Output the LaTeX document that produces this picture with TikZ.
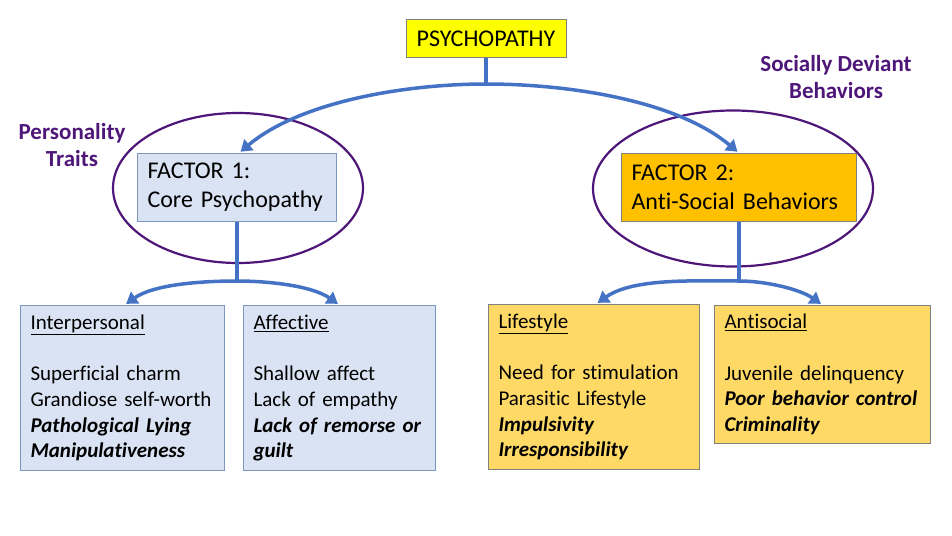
\documentclass[tikz,border=0pt]{standalone}
\usepackage{fontspec}
\setmainfont{Carlito}[Ligatures=CommonOff]
\usepackage{tikz}
\usetikzlibrary{
  arrows.meta,
  backgrounds,
  positioning
}
\definecolor{LinkBlue}{RGB}{68, 114, 196}
\definecolor{TraitPurple}{RGB}{78, 22, 120}
\definecolor{PaleBlue}{RGB}{218, 227, 243}
\definecolor{PaleBlueEdge}{RGB}{124, 150, 190}
\definecolor{TopYellow}{RGB}{255, 255, 0}
\definecolor{FactorOrange}{RGB}{255, 192, 0}
\definecolor{PaleGold}{RGB}{255, 217, 102}
\definecolor{BoxGray}{RGB}{128, 128, 128}
\tikzset{
    factorbox/.style={draw, line width=1pt, anchor=north west, inner xsep=10pt, inner ysep=0pt, align=left, font=\fontsize{24}{29}\selectfont},
    itembox/.style={draw, line width=1pt, anchor=north west, inner xsep=10pt, inner ysep=8pt, align=left, font=\fontsize{21}{25.7}\selectfont},
    stem/.style={draw=LinkBlue, line width=3.5pt},
    branch/.style={stem, -{Triangle[length=11pt,width=14pt]}, shorten >=2pt},
    ring/.style={draw=TraitPurple, line width=2.2pt},
    tag/.style={text=TraitPurple, align=center, font=\fontsize{23}{27}\selectfont\bfseries}
}

\begin{document}
\begin{tikzpicture}[x=1pt, y=-1pt]
            \useasboundingbox (0,0) rectangle (952,535);
            \node[draw=BoxGray, fill=TopYellow, line width=1pt, minimum width=160pt, minimum height=38pt, font=\fontsize{24}{28}\selectfont] (psy) at (486,39) {PSYCHOPATHY};
            \node[factorbox, fill=PaleBlue, draw=PaleBlueEdge, text width=179pt, minimum height=68pt] (f1) at (137,153) {FACTOR 1:\\Core Psychopathy};
            \node[factorbox, fill=FactorOrange, draw=BoxGray, text width=215pt, minimum height=68pt] (f2) at (621,153) {FACTOR 2:\\Anti-Social Behaviors};
            \node[tag] (traits) at (72,145) {Personality\\Traits};
            \node[tag] (deviant) at (836,77) {Socially Deviant\\Behaviors};

            \node[itembox, fill=PaleBlue, draw=PaleBlueEdge, text width=184pt, minimum height=165pt] (inter) at (20,305) {\underline{Interpersonal}\\[25.7pt]
                Superficial charm\\
                Grandiose self-worth\\
                \textbf{\textit{Pathological Lying}}\\
                \textbf{\textit{Manipulativeness}}};
            \node[itembox, fill=PaleBlue, draw=PaleBlueEdge, text width=172pt, minimum height=165pt] (affect) at (243,305) {\underline{Affective}\\[25.7pt]
                Shallow affect\\
                Lack of empathy\\
                \textbf{\textit{Lack of remorse or}}\\
                \textbf{\textit{guilt}}};
            \node[itembox, fill=PaleGold, draw=BoxGray, text width=191pt, minimum height=165pt] (life) at (488,304) {\underline{Lifestyle}\\[25.7pt]
                Need for stimulation\\
                Parasitic Lifestyle\\
                \textbf{\textit{Impulsivity}}\\
                \textbf{\textit{Irresponsibility}}};
            \node[itembox, fill=PaleGold, draw=BoxGray, text width=196pt, minimum height=138pt] (anti) at (714,305) {\underline{Antisocial}\\[25.7pt]
                Juvenile delinquency\\
                \textbf{\textit{Poor behavior control}}\\
                \textbf{\textit{Criminality}}};

            \begin{scope}[on background layer]
                \draw[ring] (238,188) ellipse [x radius=125pt, y radius=75pt];
                \draw[ring] (733,188.5) ellipse [x radius=140pt, y radius=78pt];
            \end{scope}

            \coordinate (top) at (psy.south |- 0,84);
            \coordinate (left) at (f1.south |- 0,281);
            \coordinate (right) at (f2.south |- 0,281);
            \draw[stem] (psy.south) -- (top);
            \draw[branch] (top) to[out=180, in=40, looseness=0.8] ([xshift=2pt]f1.north);
            \draw[branch] (top) to[out=0, in=140, looseness=0.8] (f2.north);
            \draw[stem] (f1.south) -- (left);
            \draw[branch] (left) to[out=180, in=35, looseness=0.8] ([xshift=2pt]inter.north);
            \draw[branch] (left) to[out=0, in=145, looseness=0.8] (affect.north);
            \draw[stem] (f2.south) -- (right);
            \draw[branch] (right) to[out=180, in=35, looseness=0.8] ([xshift=2pt]life.north);
            \draw[branch] (right) to[out=0, in=145, looseness=0.8] (anti.north);
        \end{tikzpicture}
\end{document}
